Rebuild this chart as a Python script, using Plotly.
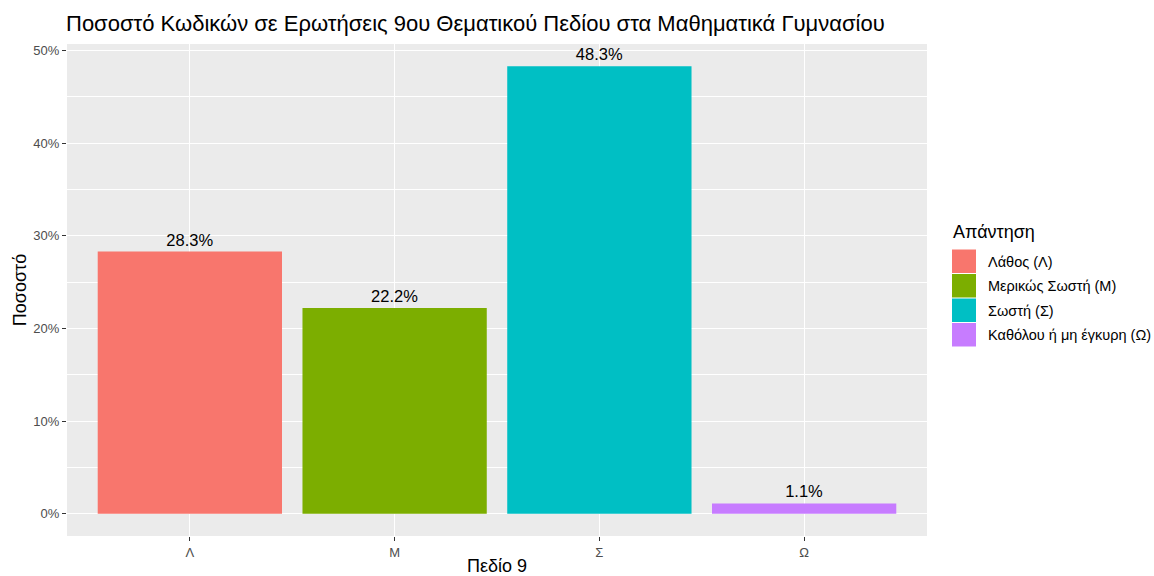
import plotly.graph_objects as go

categories = ["Λ", "Μ", "Σ", "Ω"]
legend_names = ["Λάθος (Λ)", "Μερικώς Σωστή (Μ)", "Σωστή (Σ)", "Καθόλου ή μη έγκυρη (Ω)"]
percentages = [28.3, 22.2, 48.3, 1.1]
colors = ["#F8766D", "#7CAE00", "#00BFC4", "#C77CFF"]

font_family = "Liberation Sans, Arial, sans-serif"

W, H = 1154, 576
L, R, T, B = 67, 227, 44, 40


def px_x(x):
    return (x - L) / (W - L - R)


def px_y(y):
    return (H - B - y) / (H - T - B)


fig = go.Figure()
for cat, name, val, col in zip(categories, legend_names, percentages, colors):
    fig.add_trace(go.Bar(
        x=[cat], y=[val / 100], name=name, showlegend=False,
        marker=dict(color=col, line=dict(width=0)),
        width=0.9,
        text=[f"{val:.1f}%"], textposition="outside", cliponaxis=False,
        textfont=dict(size=16.5, color="black", family=font_family),
    ))

# ggplot-like legend with large square keys
fig.add_annotation(text="Απάντηση", xref="paper", yref="paper",
                   x=px_x(951), y=px_y(232), xanchor="left", yanchor="middle",
                   showarrow=False, font=dict(size=18, color="black"))
for i, (name, col) in enumerate(zip(legend_names, colors)):
    top = 249 + i * 24.5
    fig.add_shape(type="rect", xref="paper", yref="paper",
                  x0=px_x(952), x1=px_x(976), y0=px_y(top + 0.5), y1=px_y(top + 24),
                  fillcolor=col, line=dict(width=0))
    fig.add_annotation(text=name, xref="paper", yref="paper",
                       x=px_x(986), y=px_y(top + 12.5), xanchor="left", yanchor="middle",
                       showarrow=False, font=dict(size=14.5, color="black"))

fig.update_layout(
    width=W, height=H,
    barmode="overlay",
    paper_bgcolor="white",
    plot_bgcolor="#EBEBEB",
    font=dict(family=font_family, color="black"),
    margin=dict(l=L, r=R, t=T, b=B, autoexpand=False),
    title=dict(text="Ποσοστό Κωδικών σε Ερωτήσεις 9ου Θεματικού Πεδίου στα Μαθηματικά Γυμνασίου",
               x=66 / W, xanchor="left", y=1 - 23 / H, yanchor="middle",
               font=dict(size=22, color="black")),
    showlegend=False,
)

fig.update_xaxes(
    range=[-0.6, 3.6], showgrid=True, gridcolor="white", gridwidth=1.2,
    ticks="outside", ticklen=4, tickcolor="#333333",
    tickfont=dict(size=13, color="#4D4D4D"),
    title=dict(text="Πεδίο 9", font=dict(size=18), standoff=6),
    zeroline=False, automargin=False,
)
fig.update_yaxes(
    range=[-0.02415, 0.50715], tickvals=[0, 0.1, 0.2, 0.3, 0.4, 0.5],
    tickformat=".0%", showgrid=True, gridcolor="white", gridwidth=1.2,
    minor=dict(tickvals=[0.05, 0.15, 0.25, 0.35, 0.45], showgrid=True,
               gridcolor="white", gridwidth=0.5),
    ticks="outside", ticklen=4, tickcolor="#333333",
    tickfont=dict(size=13, color="#4D4D4D"),
    title=dict(text="Ποσοστό", font=dict(size=18), standoff=2),
    zeroline=False, automargin=False,
)

fig.write_html("out.html", config={"displayModeBar": False},
               post_script="document.body.style.margin='0px';")
